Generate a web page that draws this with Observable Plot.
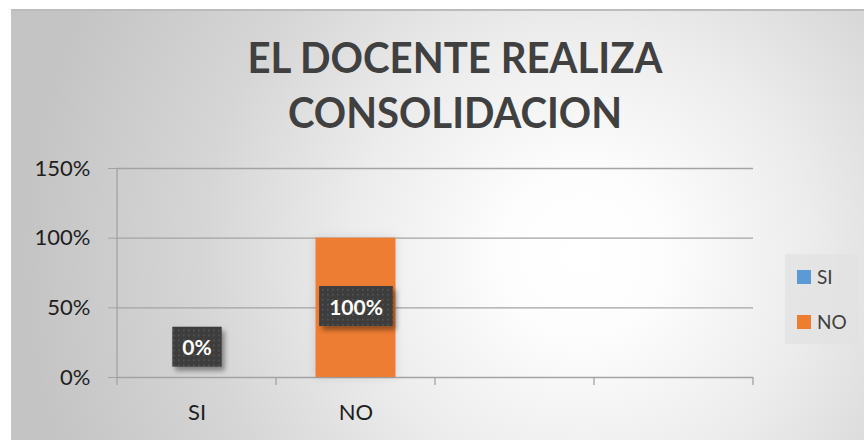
<!DOCTYPE html>
<html>
<head>
<meta charset="utf-8">
<script src="https://cdn.jsdelivr.net/npm/d3@7"></script>
<script src="https://cdn.jsdelivr.net/npm/@observablehq/plot@0.6"></script>
<style>
  body { margin: 0; background: #fff; }
  #wrap { position: relative; width: 864px; height: 440px; overflow: hidden; background: #fff; font-family: Lato, "Open Sans", sans-serif; }
  #bg { position: absolute; left: 11px; top: 9px; width: 853px; height: 431px; border-top: 2px solid #bcbcbc; box-sizing: border-box;
        background: radial-gradient(circle at 67% 57%, #ffffff 0px, #fdfdfd 80px, #ececec 230px, #d6d6d6 380px, #c4c4c4 560px); }
  #chart { position: absolute; left: 0; top: 0; }
  #overlay { position: absolute; left: 0; top: 0; pointer-events: none; }
  #chart svg [aria-label="y-axis tick"] { stroke: #a3a3a3; }
</style>
</head>
<body>
<div id="wrap">
  <div id="bg"></div>
  <div id="chart"></div>
  <svg id="overlay" width="864" height="440"></svg>
</div>
<script>
// ---- data ----
const titleLines = ["EL DOCENTE REALIZA", "CONSOLIDACION"];
const categories = ["SI", "NO"];
const values = [0, 1];
const slots = ["SI", "NO", "slot3", "slot4"];   // x axis has two extra empty slots
const yTicks = [0, 0.5, 1, 1.5];
const colors = ["#5b9bd5", "#ed7d31"];

const pct = d3.format(".0%");
const data = categories.map((c, i) => ({cat: c, value: values[i]}));

const chart = Plot.plot({
  width: 864,
  height: 440,
  marginLeft: 117,
  marginRight: 111,
  marginTop: 168,
  marginBottom: 63,
  style: {background: "transparent", fontFamily: "Lato, 'Open Sans', sans-serif", fontSize: "22px", color: "#1e1e1e", overflow: "visible"},
  x: {domain: slots, padding: 0, tickSize: 0, tickPadding: 27, tickFormat: d => categories.includes(d) ? d : "", label: null},
  y: {domain: [0, 1.5], ticks: yTicks, tickFormat: pct, tickSize: 9, tickPadding: 18, label: null},
  color: {domain: categories, range: colors},
  marks: [
    Plot.ruleY(yTicks, {stroke: "#a3a3a3", strokeWidth: 1.3}),
    Plot.barY(data, {x: "cat", y: "value", fill: "cat", insetLeft: 39.5, insetRight: 39.5}),
    Plot.text(data.filter(d => d.value > 0), {x: "cat", y: d => d.value / 2, text: d => pct(d.value), fill: "white", fontWeight: "bold", fontSize: 21}),
    Plot.text(data.filter(d => d.value === 0), {x: "cat", y: "value", dy: -29, text: d => pct(d.value), fill: "white", fontWeight: "bold", fontSize: 21})
  ]
});
document.getElementById("chart").appendChild(chart);

// ---- decorations using the plot's scales ----
const svg = d3.select(chart);
const xs = chart.scale("x"), ys = chart.scale("y");
const step = xs.step || ((xs.range[1] - xs.range[0]) / slots.length);
const x0 = xs.apply(slots[0]);
const yBase = ys.apply(0), yTop = ys.apply(yTicks[yTicks.length - 1]);

const defs = svg.insert("defs", ":first-child");
const pat = defs.append("pattern").attr("id", "dots").attr("width", 5).attr("height", 5).attr("patternUnits", "userSpaceOnUse");
pat.append("rect").attr("width", 5).attr("height", 5).attr("fill", "#3d3d3d");
pat.append("rect").attr("x", 1).attr("y", 1).attr("width", 1.6).attr("height", 1.6).attr("fill", "#565656");
const f = defs.append("filter").attr("id", "sh").attr("x", "-30%").attr("y", "-30%").attr("width", "160%").attr("height", "160%");
f.append("feDropShadow").attr("dx", 3).attr("dy", 4).attr("stdDeviation", 2.5).attr("flood-color", "#000").attr("flood-opacity", 0.4);
const g2 = defs.append("filter").attr("id", "glow").attr("x", "-30%").attr("y", "-10%").attr("width", "160%").attr("height", "120%");
g2.append("feDropShadow").attr("dx", 0).attr("dy", 0).attr("stdDeviation", 4).attr("flood-color", "#000").attr("flood-opacity", 0.12);

svg.selectAll('g[aria-label="bar"] rect').attr("filter", "url(#glow)");

const axisG = svg.append("g").attr("stroke", "#a3a3a3").attr("stroke-width", 1.3);
axisG.append("line").attr("x1", x0).attr("x2", x0).attr("y1", yTop).attr("y2", yBase);
d3.range(slots.length + 1).forEach(i => {
  const xi = x0 + i * step;
  axisG.append("line").attr("x1", xi).attr("x2", xi).attr("y1", yBase).attr("y2", yBase + 8);
});

// label boxes behind data labels
svg.selectAll('g[aria-label="text"] text').each(function () {
  const b = this.getBBox();
  const padX = 10, padY = 8.5;
  const r = document.createElementNS("http://www.w3.org/2000/svg", "rect");
  r.setAttribute("x", b.x - padX);
  r.setAttribute("y", b.y - padY + 1);
  r.setAttribute("width", b.width + 2 * padX);
  r.setAttribute("height", b.height + 2 * padY - 2);
  r.setAttribute("fill", "url(#dots)");
  r.setAttribute("filter", "url(#sh)");
  if (this.getAttribute("transform")) r.setAttribute("transform", this.getAttribute("transform"));
  this.parentNode.insertBefore(r, this);
});

// ---- title and legend overlay ----
const ov = d3.select("#overlay");
const titleBaselines = [73, 128];
const titleWidths = [415, 334];
titleLines.forEach((t, i) => {
  ov.append("text").attr("x", 455).attr("y", titleBaselines[i]).attr("text-anchor", "middle")
    .attr("font-family", "Lato, 'Open Sans', sans-serif").attr("font-weight", 700).attr("font-size", 42)
    .attr("fill", "#404040").attr("textLength", titleWidths[i]).attr("lengthAdjust", "spacingAndGlyphs").text(t);
});
const lg = ov.append("g").attr("transform", "translate(785,254)");
lg.append("rect").attr("width", 74).attr("height", 90).attr("fill", "#e2e2e2").attr("fill-opacity", 0.75);
categories.forEach((c, i) => {
  lg.append("rect").attr("x", 12).attr("y", 16 + i * 45).attr("width", 14).attr("height", 14).attr("fill", colors[i]);
  lg.append("text").attr("x", 32).attr("y", 29.5 + i * 45).attr("font-family", "Lato, 'Open Sans', sans-serif")
    .attr("font-size", 19).attr("fill", "#404040").text(c);
});
</script>
</body>
</html>
